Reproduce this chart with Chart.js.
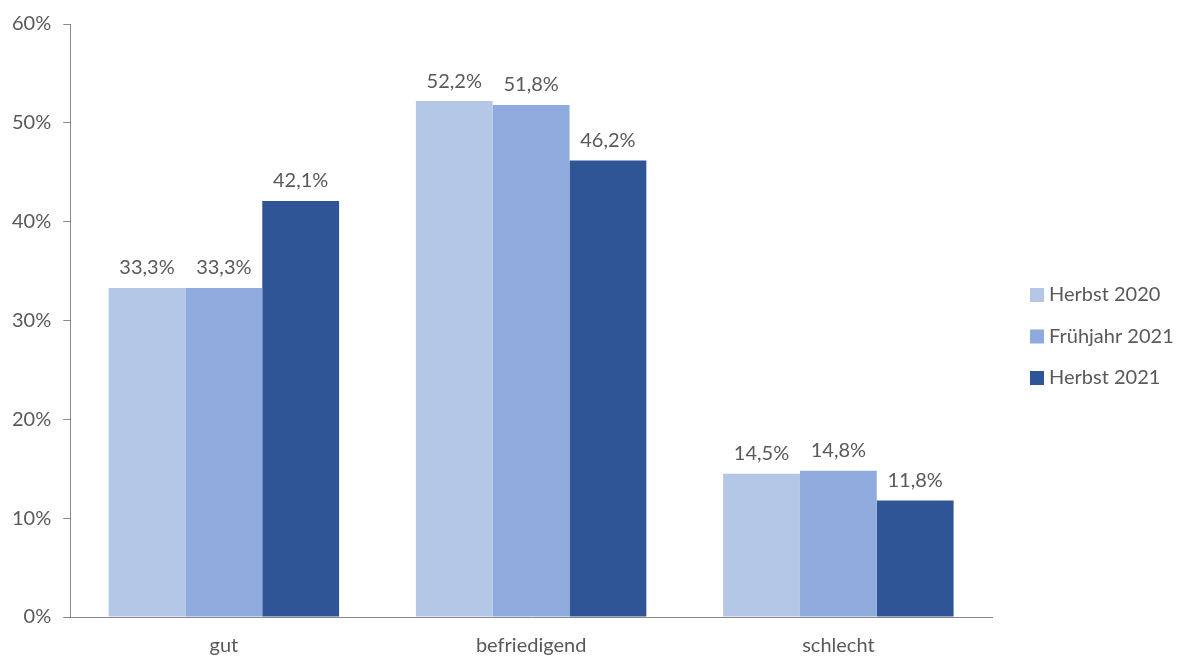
<!DOCTYPE html>
<html>
<head>
<meta charset="utf-8">
<script src="https://cdn.jsdelivr.net/npm/chart.js@4"></script>
<style>
  html, body { margin: 0; padding: 0; background: #fff; }
  #wrap { width: 1180px; height: 657px; position: relative; }
</style>
</head>
<body>
<div id="wrap"><canvas id="chart"></canvas></div>
<script>
// data
const categories = ["gut", "befriedigend", "schlecht"];
const seriesNames = ["Herbst 2020", "Frühjahr 2021", "Herbst 2021"];
const herbst2020 = [33.3, 52.2, 14.5];
const fruehjahr2021 = [33.3, 51.8, 14.8];
const herbst2021 = [42.1, 46.2, 11.8];
const yTicks = [0, 10, 20, 30, 40, 50, 60];

const colors = ["#B4C7E7", "#8FAADC", "#2F5597"];
const textColor = "#595959";
const fontFamily = "Lato, 'Open Sans', sans-serif";

// value labels above each bar
const valueLabels = {
  id: "valueLabels",
  afterDatasetsDraw(chart) {
    const ctx = chart.ctx;
    ctx.save();
    ctx.font = "20px " + fontFamily;
    ctx.fillStyle = textColor;
    ctx.textAlign = "center";
    ctx.textBaseline = "bottom";
    chart.data.datasets.forEach((ds, i) => {
      chart.getDatasetMeta(i).data.forEach((bar, j) => {
        const txt = ds.data[j].toFixed(1).replace(".", ",") + "%";
        ctx.fillText(txt, bar.x, bar.y - 10);
      });
    });
    ctx.restore();
  },
};

// legend on the right
const sideLegend = {
  id: "sideLegend",
  afterDraw(chart) {
    const ctx = chart.ctx;
    ctx.save();
    ctx.font = "20px " + fontFamily;
    ctx.textBaseline = "middle";
    const x = 1030;
    const y0 = 295;
    const step = 41.5;
    chart.data.datasets.forEach((ds, i) => {
      const y = y0 + i * step;
      ctx.fillStyle = ds.backgroundColor;
      ctx.fillRect(x, y - 7, 14, 14);
      ctx.fillStyle = textColor;
      ctx.fillText(ds.label, x + 19, y);
    });
    ctx.restore();
  },
};

const chartData = {
  labels: categories,
  datasets: [
    { label: seriesNames[0], data: herbst2020, backgroundColor: colors[0] },
    { label: seriesNames[1], data: fruehjahr2021, backgroundColor: colors[1] },
    { label: seriesNames[2], data: herbst2021, backgroundColor: colors[2] },
  ],
};

new Chart(document.getElementById("chart"), {
  type: "bar",
  data: chartData,
  options: {
    responsive: true,
    maintainAspectRatio: false,
    animation: false,
    layout: { padding: { top: 13, right: 188, left: 0, bottom: 0 } },
    datasets: {
      bar: { categoryPercentage: 0.75, barPercentage: 1.0, borderWidth: 0 },
    },
    scales: {
      x: {
        afterFit(scale) {
          scale.height = 40;
        },
        grid: { display: false, drawTicks: false },
        border: { display: true, color: "#898989", width: 1 },
        ticks: { color: textColor, font: { family: fontFamily, size: 20 }, padding: 17 },
      },
      y: {
        min: 0,
        max: 60,
        afterBuildTicks(axis) {
          axis.ticks = yTicks.map((v) => ({ value: v }));
        },
        grid: { display: true, drawOnChartArea: false, drawTicks: true, tickLength: 7, color: "#898989" },
        border: { display: true, color: "#898989", width: 1 },
        ticks: {
          color: textColor,
          font: { family: fontFamily, size: 20 },
          padding: 12,
          callback: (v) => v + "%",
        },
      },
    },
    plugins: {
      legend: { display: false },
      tooltip: { enabled: false },
    },
  },
  plugins: [valueLabels, sideLegend],
});
</script>
</body>
</html>
